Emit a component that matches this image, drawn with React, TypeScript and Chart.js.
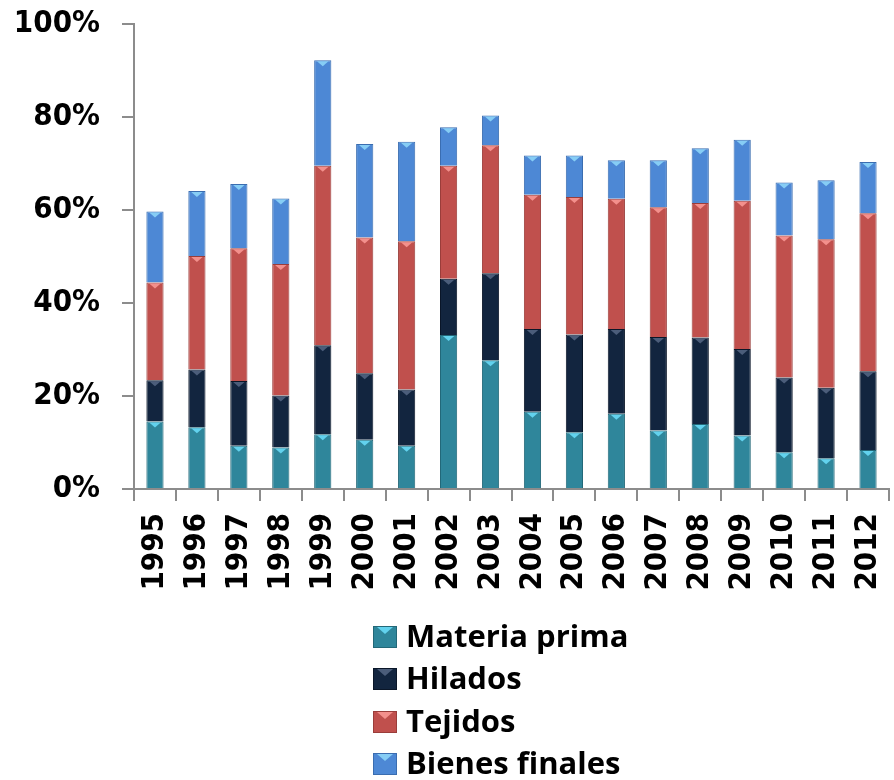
import React, { useEffect, useRef } from "react";
import { Chart, registerables } from "chart.js";

Chart.register(...registerables);

const years = ["1995","1996","1997","1998","1999","2000","2001","2002","2003","2004","2005","2006","2007","2008","2009","2010","2011","2012"];
const materiaPrima = [14.5, 13.3, 9.3, 8.9, 11.8, 10.6, 9.3, 33.1, 27.7, 16.6, 12.2, 16.2, 12.6, 14.0, 11.5, 7.9, 6.6, 8.4];
const hilados = [8.9, 12.4, 13.9, 11.2, 19.1, 14.3, 12.1, 12.1, 18.7, 17.8, 21.0, 18.2, 20.1, 18.6, 18.6, 16.1, 15.2, 16.9];
const tejidos = [21.0, 24.4, 28.6, 28.3, 38.6, 29.2, 31.9, 24.3, 27.5, 28.9, 29.6, 28.0, 27.9, 28.9, 31.9, 30.5, 31.9, 34.0];
const bienesFinales = [15.3, 14.0, 13.8, 14.1, 22.7, 20.1, 21.4, 8.3, 6.4, 8.4, 8.9, 8.3, 10.1, 11.8, 13.1, 11.4, 12.7, 11.0];
const seriesNames = ["Materia prima", "Hilados", "Tejidos", "Bienes finales"];
const seriesColors = ["#2F869B", "#12253F", "#C0504D", "#4D88D5"];
const seriesBorders = ["#236878", "#0a1628", "#9a3d3a", "#3a6db0"];
const seriesHighlights = ["#62d2ee", "#4b5d7a", "#f3908c", "#86cdf5"];
const yTicks = [0, 20, 40, 60, 80, 100];

const AXIS_FONT = { family: "'DejaVu Sans Condensed', 'DejaVu Sans', sans-serif", size: 31, weight: "bold" as const };

const bevelPlugin = {
  id: "bevelMarks",
  afterDatasetsDraw(chart: any) {
    const ctx = chart.ctx;
    ctx.save();
    chart.data.datasets.forEach((ds: any, di: number) => {
      const meta = chart.getDatasetMeta(di);
      meta.data.forEach((bar: any) => {
        const { x, y, width } = bar.getProps(["x", "y", "width"], true);
        const half = Math.min(6, width / 3);
        ctx.fillStyle = seriesHighlights[di];
        ctx.beginPath();
        ctx.moveTo(x - half, y + 1);
        ctx.lineTo(x + half, y + 1);
        ctx.lineTo(x, y + 6);
        ctx.closePath();
        ctx.fill();
      });
    });
    ctx.restore();
  },
};

const legendPlugin = {
  id: "verticalLegend",
  afterDraw(chart: any) {
    const ctx = chart.ctx;
    const x0 = 373;
    const yStart = chart.scales.x.bottom + 35;
    const rowGap = 42.3;
    ctx.save();
    chart.data.datasets.forEach((ds: any, i: number) => {
      const cy = Math.round(yStart + i * rowGap);
      ctx.fillStyle = ds.backgroundColor;
      ctx.fillRect(x0, cy - 11, 24, 22);
      ctx.strokeStyle = ds.borderColor;
      ctx.lineWidth = 1;
      ctx.strokeRect(x0 + 0.5, cy - 10.5, 23, 21);
      ctx.fillStyle = seriesHighlights[i];
      ctx.beginPath();
      ctx.moveTo(x0 + 4, cy - 10);
      ctx.lineTo(x0 + 20, cy - 10);
      ctx.lineTo(x0 + 12, cy - 3);
      ctx.closePath();
      ctx.fill();
      ctx.fillStyle = "#000";
      ctx.font = "bold 31px 'Open Sans', Lato, sans-serif";
      ctx.textBaseline = "middle";
      ctx.textAlign = "left";
      ctx.fillText(ds.label, x0 + 33, cy + 1);
    });
    ctx.restore();
  },
};

export default function App() {
  const ref = useRef<HTMLCanvasElement | null>(null);
  useEffect(() => {
    if (!ref.current) return;
    const values = [materiaPrima, hilados, tejidos, bienesFinales];
    const chart = new Chart(ref.current, {
      type: "bar",
      data: {
        labels: years,
        datasets: values.map((v, i) => ({
          label: seriesNames[i],
          data: v,
          backgroundColor: seriesColors[i],
          borderColor: seriesBorders[i],
          borderWidth: 1,
          barPercentage: 0.41,
          categoryPercentage: 1,
        })),
      },
      options: {
        animation: false,
        responsive: false,
        maintainAspectRatio: false,
        layout: { padding: { left: 12, right: 5, top: 24, bottom: 178 } },
        plugins: { legend: { display: false }, tooltip: { enabled: false } },
        scales: {
          x: {
            stacked: true,
            afterFit: (s: any) => { s.paddingLeft = 0; s.paddingRight = 0; s.height = 113; },
            grid: { drawOnChartArea: false, drawTicks: true, tickLength: 12, color: "#8c8c8c", lineWidth: 2, offset: true },
            border: { display: true, color: "#8c8c8c", width: 2 },
            ticks: { font: AXIS_FONT, color: "#000", minRotation: 90, maxRotation: 90, padding: 12, autoSkip: false },
          },
          y: {
            stacked: true,
            min: 0,
            max: 100,
            afterFit: (s: any) => { s.paddingTop = 0; s.paddingBottom = 0; s.width = 122; },
            afterBuildTicks: (axis: any) => { axis.ticks = yTicks.map((v) => ({ value: v })); },
            grid: { drawOnChartArea: false, drawTicks: true, tickLength: 12, color: "#8c8c8c", lineWidth: 2 },
            border: { display: true, color: "#8c8c8c", width: 2 },
            ticks: { font: AXIS_FONT, color: "#000", padding: 22, callback: (v: any) => v + "%" },
          },
        },
      },
      plugins: [bevelPlugin, legendPlugin],
    });
    return () => chart.destroy();
  }, []);
  return (
    <div style={{ position: "fixed", left: 0, top: 0, width: 894, height: 780, background: "#fff" }}>
      <canvas ref={ref} width={894} height={780} style={{ display: "block" }} />
    </div>
  );
}
